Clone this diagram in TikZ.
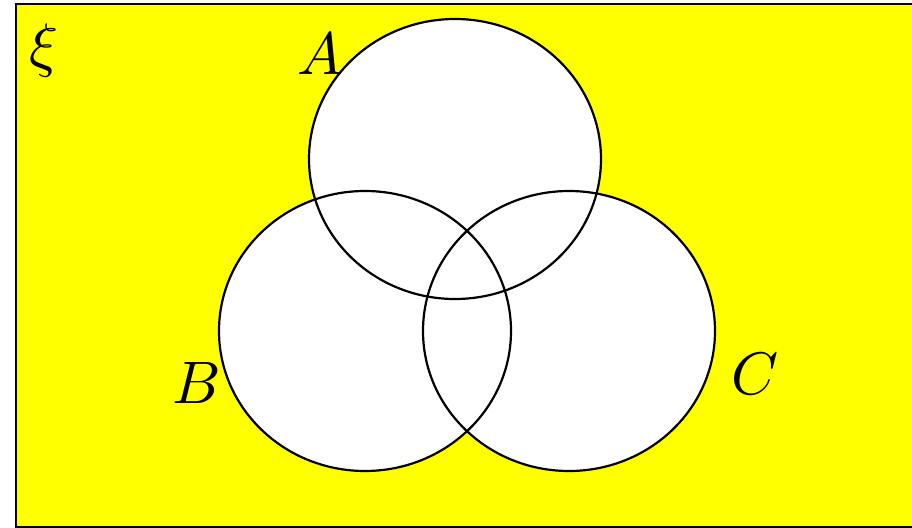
\documentclass[tikz,border=0pt]{standalone}
\usepackage{graphicx}
\usetikzlibrary{shapes.geometric, backgrounds}
\definecolor{univyellow}{RGB}{255,255,0}

\newcommand{\biglabel}[1]{\scalebox{6}{$#1$}}

\begin{document}
\begin{tikzpicture}[
  x=1pt, y=-1pt,
  setshape/.style = {
    ellipse, draw, line width=2.2pt,
    minimum width=292pt, minimum height=280pt, inner sep=0pt
  },
  setlabel/.style = {
    inner sep=0pt
  }
]
\useasboundingbox (0,0) rectangle (912,527);

% ====== SETS ======
\node[setshape] (A) at (455,159) {};
\node[setshape] (B) at (365,331) {};
\node[setshape] (C) at (569,331) {};

% ====== LABELS ======
\node[setlabel] (xi) at (44,50) {\biglabel{\xi}};
\node[setlabel] (labA) at (320,54) {\biglabel{A}};
\node[setlabel] (labB) at (197,383) {\biglabel{B}};
\node[setlabel] (labC) at (755,374) {\biglabel{C}};

% ---- universe and white fills behind ----
\begin{scope}[on background layer]
\node[draw, line width=2pt, fill=univyellow, anchor=north west,
      minimum width=910pt, minimum height=523pt] (univ) at (15,3) {};
\foreach \s in {A,B,C}
  \fill[white] (\s.center) ellipse [x radius=146pt, y radius=140pt];
\end{scope}

\end{tikzpicture}
\end{document}
